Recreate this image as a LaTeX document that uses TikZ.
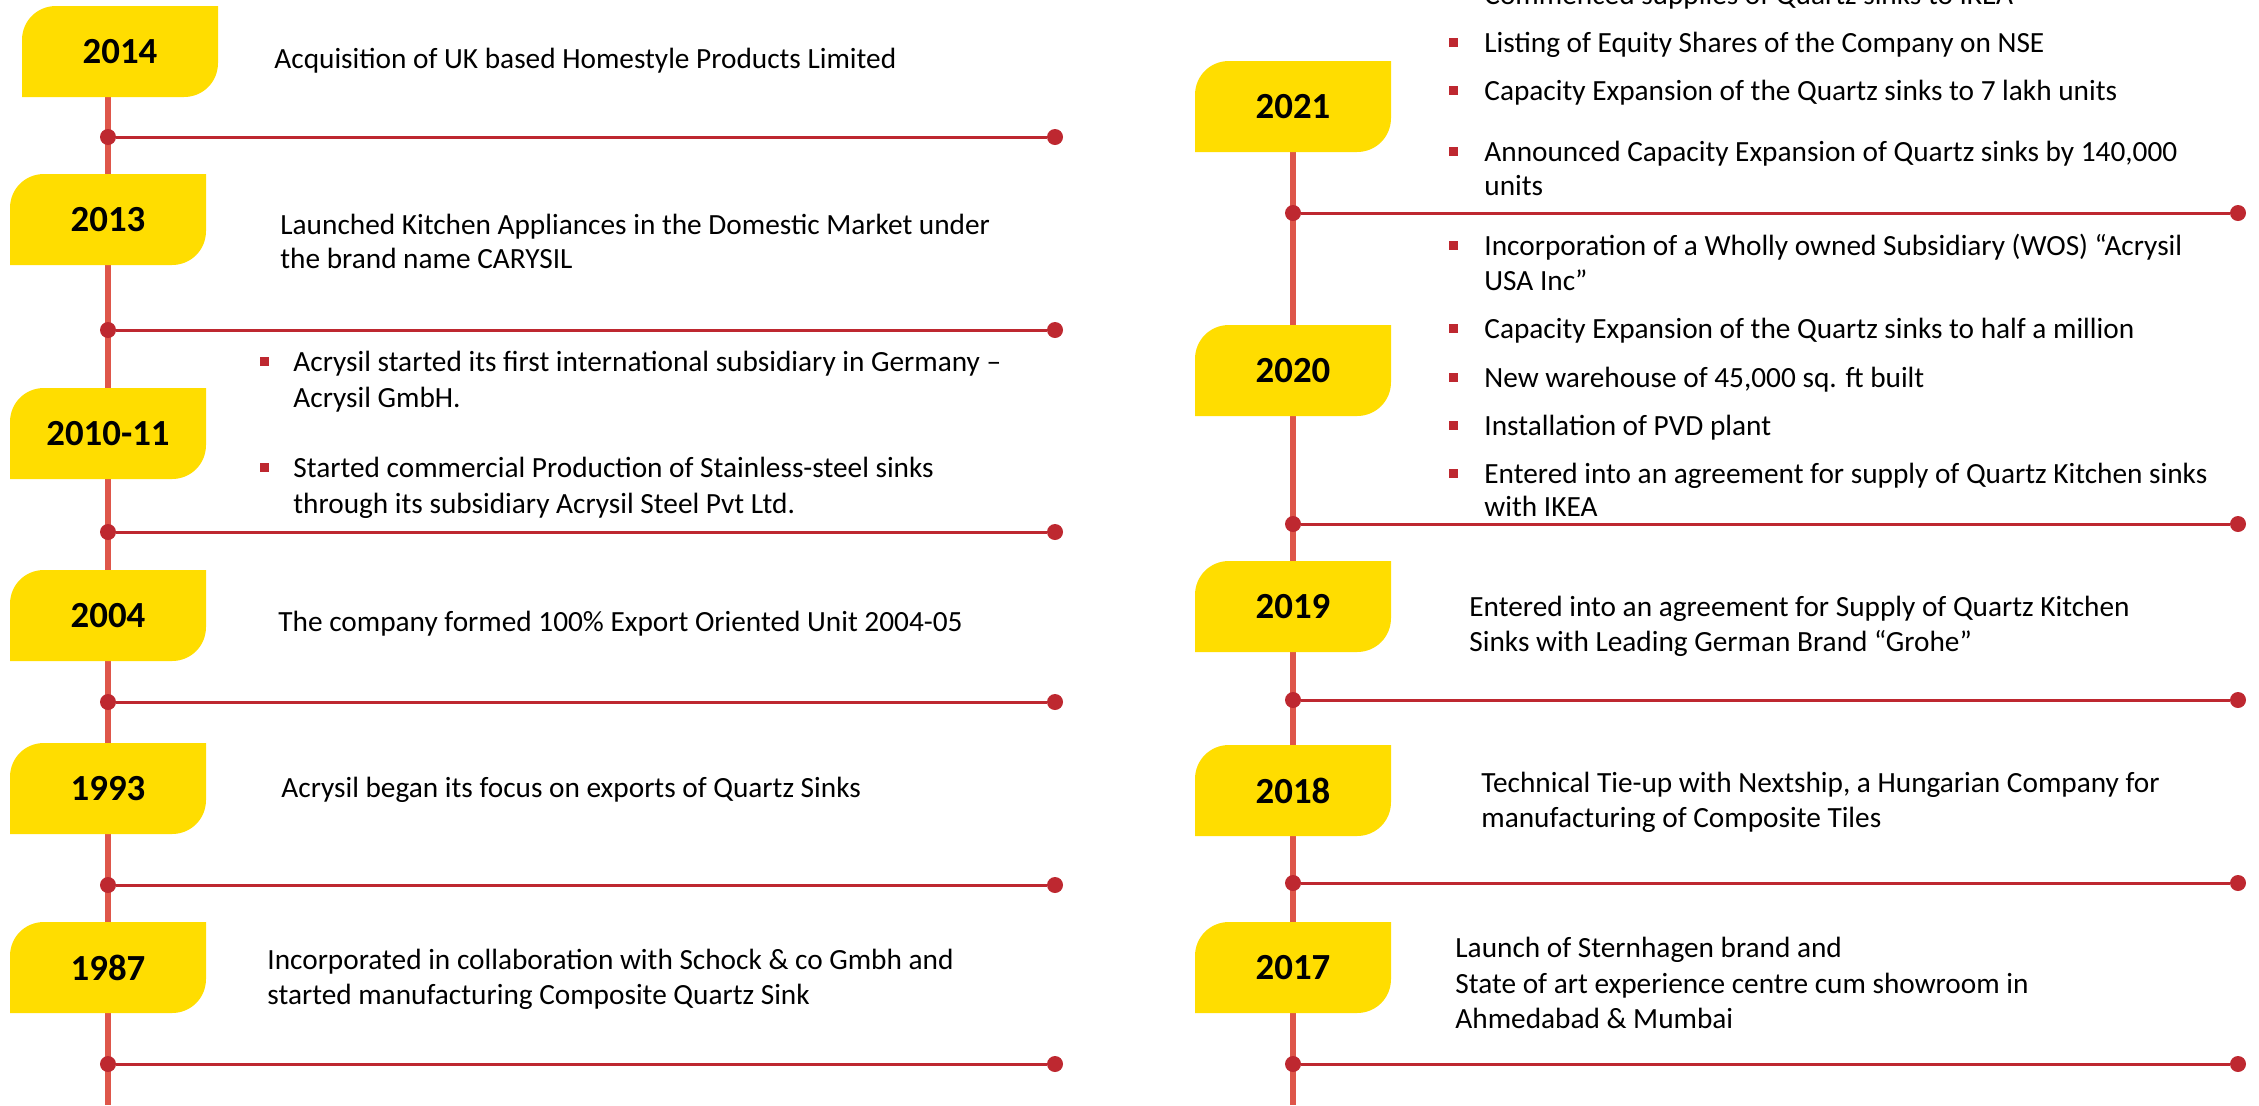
\documentclass[tikz,border=0pt]{standalone}
\usepackage{fontspec}
\setmainfont{Carlito}
\usepackage{xcolor}
\usepackage{tikz}
\usetikzlibrary{backgrounds}
\definecolor{yrfill}{RGB}{255,221,0}
\definecolor{stemred}{RGB}{222,86,74}
\definecolor{dotred}{RGB}{190,40,48}

\begin{document}
\begin{tikzpicture}[x=0.5pt,y=-0.5pt,
  yeartext/.style={font=\fontsize{18.4}{20}\selectfont\bfseries, inner sep=0pt},
  txt/.style={anchor=base west, inner sep=0pt, font=\fontsize{14.65}{17}\selectfont},
  sq/.style={fill=dotred, inner sep=0pt, minimum size=4.5pt},
  dot/.style={circle, fill=dotred, inner sep=0pt, minimum size=8pt},
  stem/.style={stemred, line width=2.75pt},
  rung/.style={dotred, line width=1.5pt}]
\useasboundingbox (0,0) rectangle (2259,1105);

% year tabs
\foreach \nm/\xl/\yt/\yr in {b14/22/6/2014, b13/10/174/2013, b10/10/388/2010-11,
    b04/10/570/2004, b93/10/743/1993, b87/10/922/1987,
    b21/1195/61/2021, b20/1195/325/2020, b19/1195/561/2019,
    b18/1195/745/2018, b17/1195/922/2017}{
  \fill[yrfill] (\xl,\yt+91) -- (\xl,\yt+34)
    .. controls (\xl,\yt+15) and (\xl+15,\yt) .. (\xl+34,\yt)
    -- (\xl+196,\yt) -- (\xl+196,\yt+57)
    .. controls (\xl+196,\yt+76) and (\xl+181,\yt+91) .. (\xl+162,\yt+91) -- cycle;
  \node[yeartext] (\nm) at (\xl+98,\yt+45.5) {\yr};
}

% stems
\coordinate (ltop) at (108,50);
\coordinate (lbot) at (108,1105);
\coordinate (rbot) at (1293,1105);
\begin{scope}[on background layer]
  \draw[stem] (ltop) -- (lbot);
  \draw[stem] (b21) -- (rbot);
\end{scope}

% rungs with dots
\foreach \i/\y in {1/137, 2/330, 3/532, 4/702, 5/885, 6/1064}{
  \node[dot] (la\i) at (108,\y) {};
  \node[dot] (lb\i) at (1055,\y) {};
  \draw[rung] (la\i) -- (lb\i);
}
\foreach \i/\y in {1/213, 2/524, 3/700, 4/883, 5/1064}{
  \node[dot] (ra\i) at (1293,\y) {};
  \node[dot] (rb\i) at (2238,\y) {};
  \draw[rung] (ra\i) -- (rb\i);
}

% left column
\node[txt] (t14) at (274,68) {Acquisition of UK based Homestyle Products Limited};
\node[txt] (t13a) at (280,234) {Launched Kitchen Appliances in the Domestic Market under};
\node[txt] (t13b) at (280,268) {the brand name CARYSIL};
\node[sq] (s10a) at (264.5,361) {};
\node[txt] (t10a) at (293,371) {Acrysil started its first international subsidiary in Germany –};
\node[txt] (t10b) at (293,407) {Acrysil GmbH.};
\node[sq] (s10c) at (264.5,467) {};
\node[txt] (t10c) at (293,477) {Started commercial Production of Stainless-steel sinks};
\node[txt] (t10d) at (293,513) {through its subsidiary Acrysil Steel Pvt Ltd.};
\node[txt] (t04) at (278,631) {The company formed 100\% Export Oriented Unit 2004-05};
\node[txt] (t93) at (281,797) {Acrysil began its focus on exports of Quartz Sinks};
\node[txt] (t87a) at (267,969) {Incorporated in collaboration with Schock \& co Gmbh and};
\node[txt] (t87b) at (267,1004) {started manufacturing Composite Quartz Sink};

% right column
\node[sq] (s21a) at (1453.5,-6) {};
\node[txt] (t21a) at (1484,4) {Commenced supplies of Quartz sinks to IKEA};
\node[sq] (s21b) at (1453.5,42) {};
\node[txt] (t21b) at (1484,52) {Listing of Equity Shares of the Company on NSE};
\node[sq] (s21c) at (1453.5,90) {};
\node[txt] (t21c) at (1484,100) {Capacity Expansion of the Quartz sinks to 7 lakh units};
\node[sq] (s21d) at (1453.5,151) {};
\node[txt] (t21d) at (1484,161) {Announced Capacity Expansion of Quartz sinks by 140,000};
\node[txt] (t21e) at (1484,195) {units};

\node[sq] (s20a) at (1453.5,245) {};
\node[txt] (t20a) at (1484,255) {Incorporation of a Wholly owned Subsidiary (WOS) “Acrysil};
\node[txt] (t20b) at (1484,290) {USA Inc”};
\node[sq] (s20c) at (1453.5,328) {};
\node[txt] (t20c) at (1484,338) {Capacity Expansion of the Quartz sinks to half a million};
\node[sq] (s20d) at (1453.5,377) {};
\node[txt] (t20d) at (1484,387) {New warehouse of 45,000 sq. ft built};
\node[sq] (s20e) at (1453.5,425) {};
\node[txt] (t20e) at (1484,435) {Installation of PVD plant};
\node[sq] (s20f) at (1453.5,473) {};
\node[txt] (t20f) at (1484,483) {Entered into an agreement for supply of Quartz Kitchen sinks};
\node[txt] (t20g) at (1484,516) {with IKEA};

\node[txt] (t19a) at (1469,616) {Entered into an agreement for Supply of Quartz Kitchen};
\node[txt] (t19b) at (1469,651) {Sinks with Leading German Brand “Grohe”};
\node[txt] (t18a) at (1481,792) {Technical Tie-up with Nextship, a Hungarian Company for};
\node[txt] (t18b) at (1481,827) {manufacturing of Composite Tiles};
\node[txt] (t17a) at (1455,957) {Launch of Sternhagen brand and};
\node[txt] (t17b) at (1455,993) {State of art experience centre cum showroom in};
\node[txt] (t17c) at (1455,1028) {Ahmedabad \& Mumbai};
\end{tikzpicture}
\end{document}
